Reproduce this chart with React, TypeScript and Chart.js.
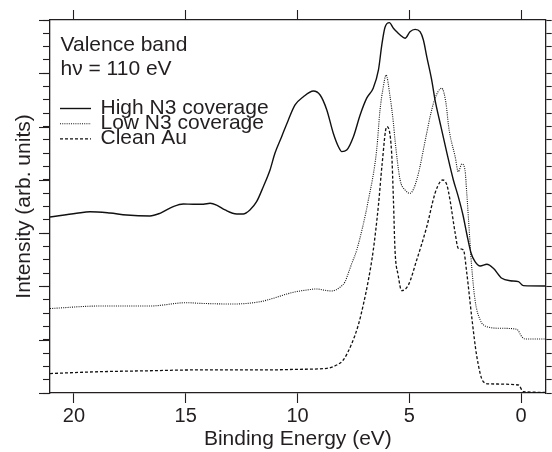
import React, { useEffect, useRef } from "react";
import { Chart, registerables } from "chart.js";

Chart.register(...registerables);

const FONT = "'Liberation Sans', Arial, Helvetica, sans-serif";
const INK = "#231f20";

// axis settings (binding energy axis is reversed)
const xTicks = [0, 5, 10, 15, 20];
const xMin = -1.1;
const xMax = 21.07;
const yMin = 0;
const yMax = 28;
const yTicks = Array.from({ length: 29 }, (_, i) => i);
const yMajorTicks = [0, 4, 8, 12, 16, 20, 24, 28];

const xTitle = "Binding Energy (eV)";
const yTitle = "Intensity (arb. units)";
const noteLines = ["Valence band", "h\u03bd = 110 eV"];
const seriesLabels = ["High N3 coverage", "Low N3 coverage", "Clean Au"];

// High N3 coverage
const highBE = [21.07, 19.88, 19.28, 18.39, 17.64, 16.6, 16.15, 15.56, 15.11, 14.66, 14.21, 13.91, 13.62, 13.24, 12.72, 12.43, 12.13, 11.83, 11.53, 11.23, 11.01, 10.71, 10.41, 10.11, 9.74, 9.29, 8.99, 8.69, 8.4, 8.17, 8.02, 7.8, 7.5, 7.2, 6.9, 6.61, 6.38, 6.23, 6.09, 5.89, 5.71, 5.56, 5.41, 5.19, 4.97, 4.74, 4.52, 4.37, 4.22, 4.0, 3.85, 3.62, 3.32, 3.03, 2.81, 2.6, 2.42, 2.24, 2.06, 1.83, 1.53, 1.24, 0.86, 0.49, 0.12, -0.1, -1.1];
const highI = [13.21, 13.49, 13.61, 13.51, 13.36, 13.29, 13.49, 13.99, 14.19, 14.17, 14.17, 14.24, 14.11, 13.74, 13.44, 13.44, 13.74, 14.36, 15.49, 16.74, 18.0, 19.24, 20.5, 21.62, 22.24, 22.67, 22.37, 21.25, 19.5, 18.49, 18.12, 18.24, 19.24, 20.87, 22.15, 22.9, 24.25, 26.13, 27.44, 27.8, 27.38, 27.12, 26.88, 26.63, 27.12, 27.3, 27.12, 26.5, 25.25, 23.5, 22.0, 20.25, 18.02, 15.99, 14.74, 13.36, 11.86, 10.51, 9.86, 9.53, 9.66, 9.36, 8.61, 8.43, 8.36, 8.06, 8.03];

// Low N3 coverage
const lowBE = [21.07, 18.84, 16.6, 14.96, 14.36, 12.89, 11.68, 11.08, 10.48, 10.04, 9.59, 9.14, 8.85, 8.47, 8.1, 7.87, 7.73, 7.57, 7.35, 6.83, 6.46, 6.31, 6.17, 6.04, 5.86, 5.71, 5.64, 5.41, 5.19, 4.97, 4.67, 4.22, 4.07, 3.85, 3.55, 3.36, 3.25, 3.18, 2.95, 2.81, 2.65, 2.51, 2.43, 2.36, 2.21, 2.06, 1.83, 1.53, 0.94, 0.19, -0.03, -0.18, -1.1];
const lowI = [6.34, 6.53, 6.53, 6.78, 6.73, 6.68, 6.85, 7.11, 7.43, 7.61, 7.73, 7.81, 7.73, 7.66, 7.94, 8.36, 8.99, 9.74, 10.74, 14.49, 18.24, 21.25, 22.9, 23.87, 22.24, 20.25, 18.99, 15.99, 15.24, 14.99, 15.99, 19.52, 20.74, 22.12, 22.88, 21.75, 20.12, 19.37, 17.74, 16.61, 17.19, 16.74, 14.99, 13.24, 9.48, 6.98, 5.48, 4.98, 4.86, 4.78, 4.23, 4.05, 4.05];

// Clean Au
const auBE = [21.07, 18.84, 16.6, 14.66, 11.38, 9.89, 8.69, 8.25, 7.95, 7.57, 7.28, 7.06, 6.83, 6.61, 6.38, 6.22, 6.01, 5.79, 5.71, 5.64, 5.5, 5.34, 5.04, 4.67, 4.22, 3.85, 3.62, 3.5, 3.32, 3.18, 2.95, 2.81, 2.58, 2.43, 2.21, 1.98, 1.69, 1.39, 0.12, -0.1, -1.1];
const auI = [1.46, 1.6, 1.67, 1.73, 1.73, 1.78, 1.85, 2.1, 2.48, 3.73, 5.11, 6.61, 8.48, 10.74, 14.11, 17.12, 19.99, 18.02, 14.49, 10.74, 8.86, 7.68, 8.11, 9.98, 12.48, 14.99, 15.86, 15.99, 15.62, 14.49, 12.01, 10.86, 10.74, 9.01, 5.73, 2.73, 0.85, 0.68, 0.6, 0.1, 0.05];

const toPoints = (xs: number[], ys: number[]) => xs.map((x, i) => ({ x, y: ys[i] }));

// longer major ticks on the left axis, placed through the y scale
const majorTickPlugin = {
  id: "majorTickPlugin",
  afterDraw(chart: any) {
    const { ctx, chartArea } = chart;
    const yScale = chart.scales.y;
    ctx.save();
    ctx.strokeStyle = INK;
    ctx.lineWidth = 1.1;
    yMajorTicks.forEach((v) => {
      const py = Math.round(yScale.getPixelForValue(v)) + 0.5;
      ctx.beginPath();
      ctx.moveTo(chartArea.left - 11, py);
      ctx.lineTo(chartArea.left, py);
      ctx.stroke();
    });
    ctx.restore();
  },
};

const notePlugin = {
  id: "notePlugin",
  afterDatasetsDraw(chart: any) {
    const { ctx, chartArea } = chart;
    const L = chartArea.left;
    const T = chartArea.top;
    ctx.save();
    ctx.fillStyle = INK;
    ctx.font = `21px ${FONT}`;
    ctx.textAlign = "left";
    ctx.textBaseline = "alphabetic";
    ctx.fillText(noteLines[0], L + 10.5, T + 30.7);
    ctx.fillText(noteLines[1], L + 10.5, T + 55);
    chart.data.datasets.forEach((ds: any, i: number) => {
      const base = T + 94 + i * 15.2;
      ctx.save();
      ctx.strokeStyle = ds.borderColor;
      ctx.lineWidth = ds.borderWidth;
      ctx.setLineDash(ds.borderDash || []);
      ctx.beginPath();
      ctx.moveTo(L + 10, base - 5.5);
      ctx.lineTo(L + 41, base - 5.5);
      ctx.stroke();
      ctx.restore();
      ctx.fillText(ds.label, L + 50.5, base);
    });
    ctx.restore();
  },
};

export default function App() {
  const ref = useRef<HTMLCanvasElement | null>(null);

  useEffect(() => {
    if (!ref.current) return;
    const tickFont = { family: FONT, size: 20 };
    const titleFont = { family: FONT, size: 21 };
    const xBase = (pos: "top" | "bottom") => ({
      type: "linear" as const,
      position: pos,
      min: xMin,
      max: xMax,
      reverse: true,
      afterBuildTicks: (s: any) => {
        s.ticks = xTicks.map((v) => ({ value: v }));
      },
      grid: {
        display: true,
        drawOnChartArea: false,
        drawTicks: true,
        tickLength: 10,
        tickColor: INK,
        tickWidth: 1.1,
      },
      border: { display: true, color: INK, width: 1.3 },
    });
    const yBase = (pos: "left" | "right") => ({
      type: "linear" as const,
      position: pos,
      min: yMin,
      max: yMax,
      afterBuildTicks: (s: any) => {
        s.ticks = yTicks.map((v) => ({ value: v }));
      },
      ticks: { display: false, autoSkip: false },
      border: { display: true, color: INK, width: 1.3 },
    });

    const chart = new Chart(ref.current, {
      type: "line",
      data: {
        datasets: [
          {
            label: seriesLabels[0],
            data: toPoints(highBE, highI),
            borderColor: "#111111",
            borderWidth: 1.4,
            borderDash: [],
            pointRadius: 0,
            fill: false,
            cubicInterpolationMode: "monotone",
            xAxisID: "x",
            yAxisID: "y",
          },
          {
            label: seriesLabels[1],
            data: toPoints(lowBE, lowI),
            borderColor: "#111111",
            borderWidth: 1.1,
            borderDash: [1, 1.2],
            pointRadius: 0,
            fill: false,
            cubicInterpolationMode: "monotone",
            xAxisID: "x",
            yAxisID: "y",
          },
          {
            label: seriesLabels[2],
            data: toPoints(auBE, auI),
            borderColor: "#111111",
            borderWidth: 1.3,
            borderDash: [3, 2],
            pointRadius: 0,
            fill: false,
            cubicInterpolationMode: "monotone",
            xAxisID: "x",
            yAxisID: "y",
          },
        ],
      },
      options: {
        animation: false,
        responsive: false,
        maintainAspectRatio: false,
        devicePixelRatio: 1,
        layout: { padding: 0 },
        plugins: { legend: { display: false }, tooltip: { enabled: false } },
        scales: {
          x: {
            ...xBase("bottom"),
            afterFit: (s: any) => {
              s.height = 59;
            },
            ticks: {
              color: INK,
              font: tickFont,
              padding: 1,
              maxRotation: 0,
              autoSkip: false,
            },
            title: { display: true, text: xTitle, color: INK, font: titleFont, padding: 0 },
          },
          x2: {
            ...xBase("top"),
            afterFit: (s: any) => {
              s.height = 20;
            },
            ticks: { display: false, autoSkip: false },
          },
          y: {
            ...yBase("left"),
            afterFit: (s: any) => {
              s.width = 50;
            },
            grid: {
              display: true,
              drawOnChartArea: false,
              drawTicks: true,
              tickLength: 7,
              tickColor: INK,
              tickWidth: 1.1,
            },
            title: {
              display: true,
              text: yTitle,
              color: INK,
              font: titleFont,
              padding: { top: 12, bottom: 0 },
            },
          },
          y2: {
            ...yBase("right"),
            afterFit: (s: any) => {
              s.width = 6.3;
            },
            grid: {
              display: true,
              drawOnChartArea: false,
              drawTicks: true,
              tickLength: 6,
              tickColor: INK,
              tickWidth: 1.1,
            },
          },
        },
      },
      plugins: [notePlugin, majorTickPlugin],
    } as any);

    return () => chart.destroy();
  }, []);

  return (
    <div
      style={{
        position: "fixed",
        left: 0,
        top: 0,
        width: 552,
        height: 452,
        background: "#ffffff",
      }}
    >
      <canvas ref={ref} width={552} height={452} style={{ display: "block" }} />
    </div>
  );
}
